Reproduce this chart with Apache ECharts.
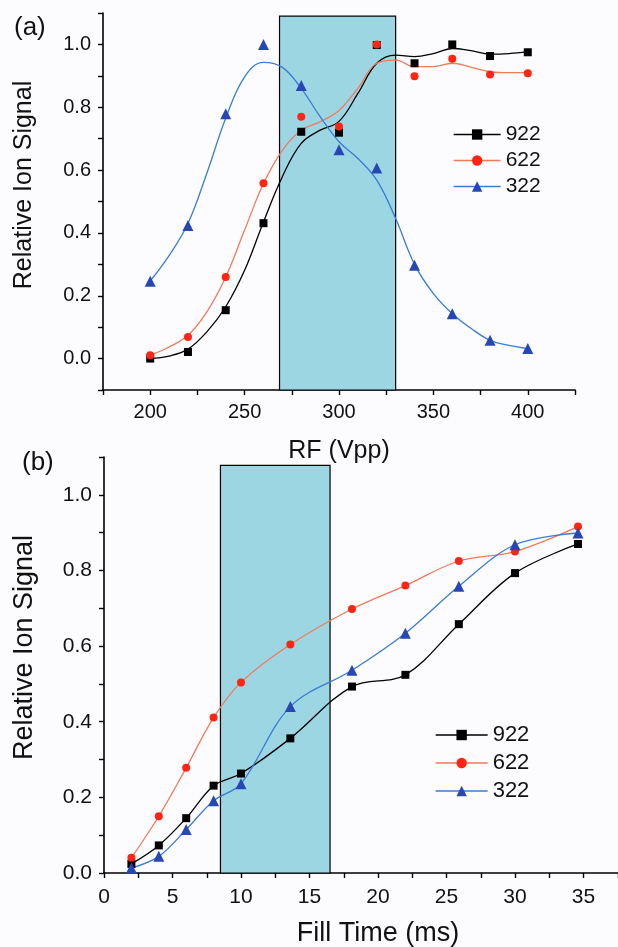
<!DOCTYPE html>
<html><head><meta charset="utf-8">
<script src="https://cdn.jsdelivr.net/npm/echarts@6/dist/echarts.min.js"></script>
<style>html,body{margin:0;padding:0;background:#fcfcfe}#c{width:618px;height:947px}</style>
</head><body><div id="c"></div><script>
// ---- Panel (a): RF amplitude ----
const rfX   = [200, 220, 240, 260, 280, 300, 320, 340, 360, 380, 400];
const rf922 = [0.00, 0.021, 0.154, 0.431, 0.722, 0.719, 0.998, 0.94, 1.00, 0.963, 0.975];
const rf622 = [0.011, 0.069, 0.26, 0.558, 0.77, 0.739, 1.00, 0.899, 0.954, 0.904, 0.908];
const rf322 = [0.246, 0.424, 0.779, 1.00, 0.869, 0.665, 0.607, 0.297, 0.143, 0.058, 0.032];
// fitted curves
const fitRF  = [200, 210, 220, 230, 240, 250, 260, 270, 280, 290, 300, 310, 320, 330, 340, 350, 360, 370, 380, 390, 400];
const fit922 = [0.0, 0.008, 0.03, 0.085, 0.165, 0.281, 0.435, 0.579, 0.685, 0.727, 0.755, 0.844, 0.94, 0.966, 0.961, 0.971, 0.987, 0.98, 0.969, 0.971, 0.977];
const fit622 = [0.011, 0.037, 0.074, 0.149, 0.26, 0.409, 0.557, 0.663, 0.727, 0.754, 0.79, 0.86, 0.94, 0.95, 0.929, 0.929, 0.94, 0.927, 0.913, 0.91, 0.91];
const fit322 = [0.247, 0.328, 0.43, 0.59, 0.765, 0.897, 0.943, 0.927, 0.86, 0.77, 0.69, 0.637, 0.568, 0.446, 0.30, 0.207, 0.143, 0.096, 0.058, 0.042, 0.032];
const rfBand = [268.5, 330, 1.09];

// ---- Panel (b): Fill time ----
const fillX   = [2, 4, 6, 8, 10, 13.6, 18.1, 22, 25.9, 30, 34.6];
const fill922 = [0.024, 0.073, 0.145, 0.231, 0.263, 0.356, 0.493, 0.524, 0.658, 0.793, 0.870];
const fill622 = [0.040, 0.150, 0.278, 0.411, 0.504, 0.604, 0.698, 0.760, 0.825, 0.850, 0.916];
const fill322 = [0.013, 0.044, 0.115, 0.191, 0.236, 0.44, 0.536, 0.634, 0.758, 0.868, 0.899];
const fillBand = [8.5, 16.5, 1.078];

const names = ['922', '622', '322'];

const FONT = "'Liberation Sans', Arial, sans-serif";
const TXT = '#111';
const COL = {
  '922': {pt: '#000000', ln: '#000000', sym: 'rect', size: 8},
  '622': {pt: '#ff2414', ln: '#f27a58', sym: 'circle', size: 8},
  '322': {pt: '#2748b4', ln: '#3a7cd6', sym: 'triangle', size: 11}
};
const zip = (xs, ys) => xs.map((x, i) => [x, ys[i]]);
const evenLabel = v => { const k = Math.round(v * 10); return (k >= 0 && k <= 10 && k % 2 === 0) ? (k / 10).toFixed(1) : ''; };

const axisCommon = {
  type: 'value',
  axisLine: {show: true, onZero: false, lineStyle: {color: '#000', width: 1.6}},
  axisTick: {show: true, length: 5, lineStyle: {color: '#000', width: 1.4}},
  splitLine: {show: false}
};

const chart = echarts.init(document.getElementById('c'), null, {renderer: 'canvas'});
const ptsTop = {'922': rf922, '622': rf622, '322': rf322};
const fitTop = {'922': fit922, '622': fit622, '322': fit322};
const ptsBot = {'922': fill922, '622': fill622, '322': fill322};

const series = [];
series.push({
  type: 'line', xAxisIndex: 0, yAxisIndex: 0, data: [], z: 1, silent: true,
  markArea: {silent: true, itemStyle: {color: '#9dd6e3', borderColor: '#000', borderWidth: 1.2},
    data: [[{coord: [rfBand[0], -0.1]}, {coord: [rfBand[1], rfBand[2]]}]]}
});
names.forEach(n => series.push({
  name: n + ' fit', type: 'line', xAxisIndex: 0, yAxisIndex: 0, z: 2,
  data: zip(fitRF, fitTop[n]), smooth: 0.4, symbol: 'none',
  lineStyle: {color: COL[n].ln, width: 1.3}
}));
names.forEach(n => series.push({
  name: n, type: 'line', xAxisIndex: 0, yAxisIndex: 0, z: 3,
  data: zip(rfX, ptsTop[n]), symbol: COL[n].sym, symbolSize: COL[n].size, showSymbol: true,
  itemStyle: {color: COL[n].pt}, lineStyle: {color: COL[n].ln, opacity: 0}
}));
series.push({
  type: 'line', xAxisIndex: 1, yAxisIndex: 1, data: [], z: 1, silent: true,
  markArea: {silent: true, itemStyle: {color: '#9dd6e3', borderColor: '#000', borderWidth: 1.2},
    data: [[{coord: [fillBand[0], 0]}, {coord: [fillBand[1], fillBand[2]]}]]}
});
names.forEach(n => series.push({
  name: n, type: 'line', xAxisIndex: 1, yAxisIndex: 1, z: 3,
  data: zip(fillX, ptsBot[n]), smooth: 0.35, symbol: COL[n].sym, symbolSize: COL[n].size, showSymbol: true,
  itemStyle: {color: COL[n].pt}, lineStyle: {color: COL[n].ln, width: 1.3}
}));

const legendData = names.map(n => ({name: n, lineStyle: {color: COL[n].ln, opacity: 1, width: 1.3}, itemStyle: {color: COL[n].pt}}));

chart.setOption({
  animation: false,
  backgroundColor: '#fcfcfe',
  textStyle: {fontFamily: FONT},
  grid: [
    {left: 103, top: 13, width: 472, height: 377, outerBoundsMode: 'none', containLabel: false},
    {left: 104, top: 457, width: 548, height: 416, outerBoundsMode: 'none', containLabel: false}
  ],
  xAxis: [
    Object.assign({}, axisCommon, {gridIndex: 0, min: 175, max: 425, interval: 25,
      axisLabel: {formatter: v => (v % 50 === 0 ? String(v) : ''), fontSize: 20, color: TXT, margin: 12, fontFamily: FONT},
      name: 'RF (Vpp)', nameLocation: 'middle', nameGap: 49,
      nameTextStyle: {fontSize: 25, color: TXT, fontFamily: FONT}}),
    Object.assign({}, axisCommon, {gridIndex: 1, min: 0, max: 40, interval: 2.5,
      axisLabel: {formatter: v => (v % 5 === 0 && v < 40 ? String(v) : ''), fontSize: 21, color: TXT, margin: 14, fontFamily: FONT},
      name: 'Fill Time (ms)', nameLocation: 'middle', nameGap: 47,
      nameTextStyle: {fontSize: 27, color: TXT, fontFamily: FONT}})
  ],
  yAxis: [
    Object.assign({}, axisCommon, {gridIndex: 0, min: -0.1, max: 1.1, interval: 0.1,
      axisLabel: {formatter: evenLabel, fontSize: 20, color: TXT, margin: 12, fontFamily: FONT},
      name: 'Relative Ion Signal', nameLocation: 'middle', nameGap: 66,
      nameTextStyle: {fontSize: 25, color: TXT, fontFamily: FONT, padding: [0, 0, 0, 33]}}),
    Object.assign({}, axisCommon, {gridIndex: 1, min: 0, max: 1.1, interval: 0.1,
      axisLabel: {formatter: evenLabel, fontSize: 21, color: TXT, margin: 12, fontFamily: FONT},
      name: 'Relative Ion Signal', nameLocation: 'middle', nameGap: 66,
      nameTextStyle: {fontSize: 27, color: TXT, fontFamily: FONT, padding: [0, 0, 0, 35]}})
  ],
  legend: [
    {orient: 'vertical', left: 448, top: 119, itemWidth: 47, itemHeight: 13, itemGap: 5,
      textStyle: {fontSize: 21, color: TXT, fontFamily: FONT}, data: legendData, selectedMode: false},
    {orient: 'vertical', left: 430, top: 719, itemWidth: 52, itemHeight: 13, itemGap: 6,
      textStyle: {fontSize: 22, color: TXT, fontFamily: FONT}, data: legendData, selectedMode: false}
  ],
  graphic: [
    {type: 'text', left: 14, top: 15, style: {text: '(a)', font: '26px ' + FONT, fill: TXT}},
    {type: 'text', left: 22, top: 450, style: {text: '(b)', font: '26px ' + FONT, fill: TXT}}
  ],
  series: series
});
</script></body></html>
